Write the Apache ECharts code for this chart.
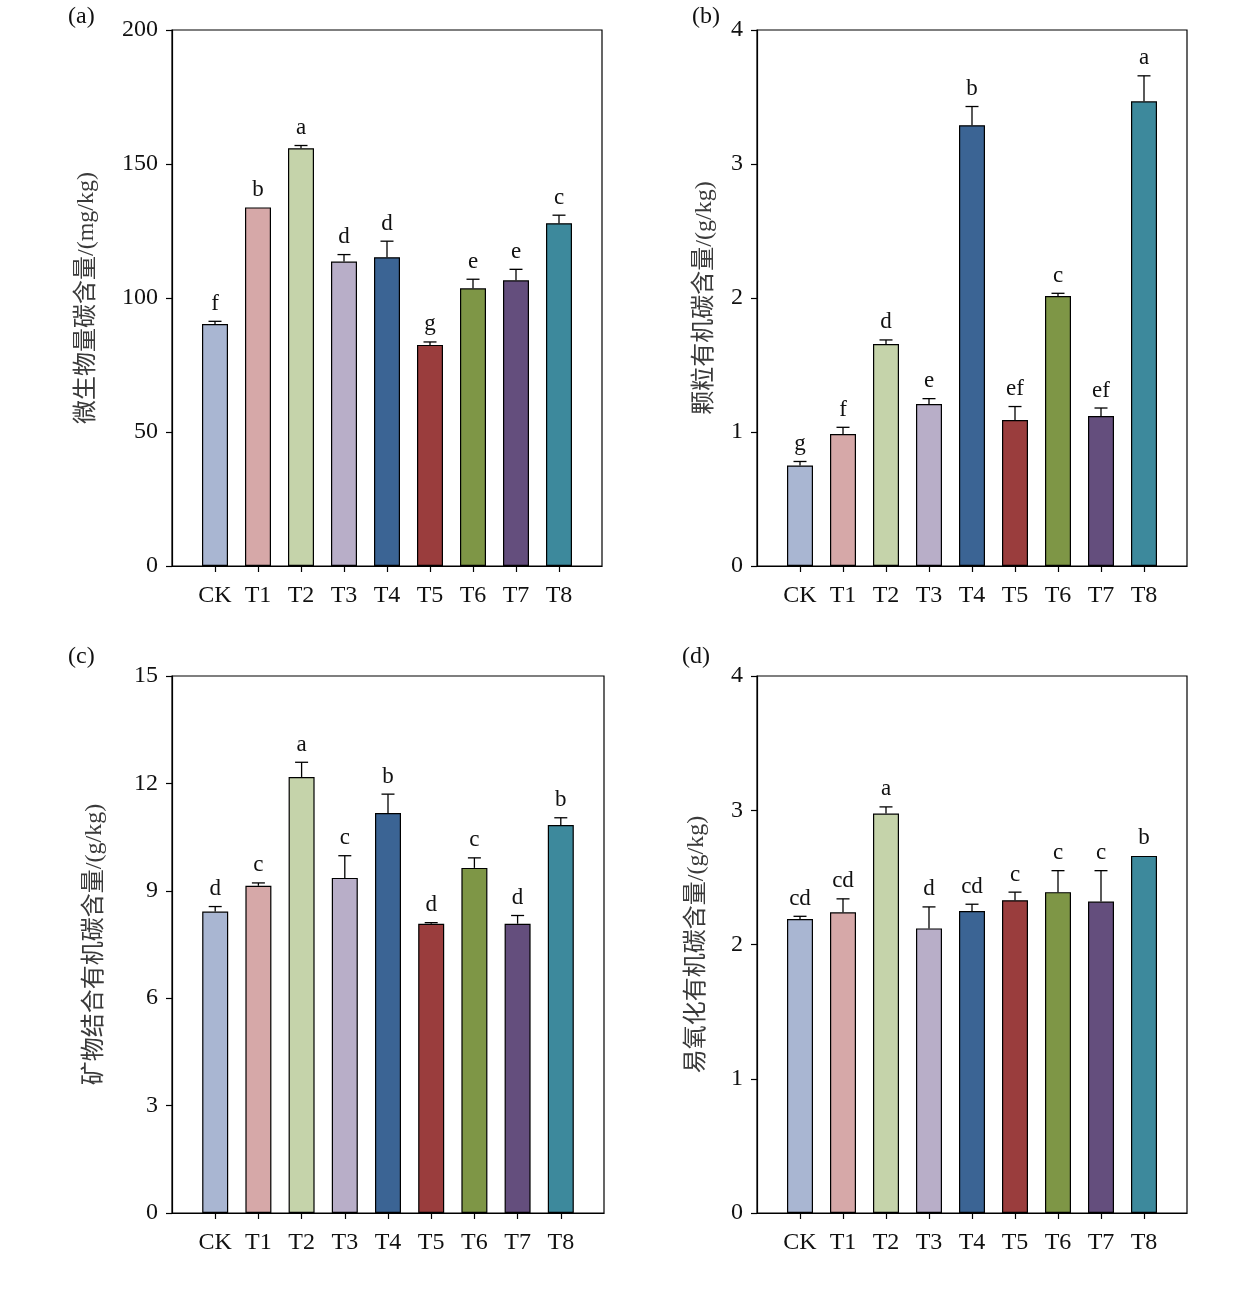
<!DOCTYPE html>
<html lang="zh">
  <head>
    <meta charset="UTF-8" />
    <title>土壤碳组分</title>
    <script src="https://cdn.jsdelivr.net/npm/echarts@6.0.0/dist/echarts.min.js"></script>
    <style>
      html, body { margin: 0; padding: 0; background: #fff; }
      #app { width: 1260px; height: 1297px; }
    </style>
  </head>
  <body>
    <div id="app"></div>
    <script>
      const categories = ["CK", "T1", "T2", "T3", "T4", "T5", "T6", "T7", "T8"];
      const barColors = ["#a9b6d2", "#d6a8a8", "#c5d3aa", "#b8aec8", "#3b6494", "#9a3d3d", "#7e9646", "#644e7d", "#3d899c"];

      // (a) 微生物量碳
      const mbcMean = [90.3, 133.8, 155.9, 113.6, 115.2, 82.5, 103.6, 106.6, 127.9];
      const mbcErr = [1.0, 0, 1.0, 2.6, 6.0, 1.1, 3.4, 4.1, 3.0];
      const mbcSig = ["f", "b", "a", "d", "d", "g", "e", "e", "c"];

      // (b) 颗粒有机碳
      const pocMean = [0.75, 0.985, 1.657, 1.209, 3.289, 1.09, 2.015, 1.119, 3.468];
      const pocErr = [0.03, 0.05, 0.03, 0.04, 0.14, 0.10, 0.02, 0.06, 0.19];
      const pocSig = ["g", "f", "d", "e", "b", "ef", "c", "ef", "a"];

      // (c) 矿物结合有机碳
      const maocMean = [8.42, 9.14, 12.18, 9.36, 11.17, 8.08, 9.64, 8.08, 10.84];
      const maocErr = [0.14, 0.08, 0.41, 0.62, 0.53, 0.03, 0.28, 0.23, 0.20];
      const maocSig = ["d", "c", "a", "c", "b", "d", "c", "d", "b"];

      // (d) 易氧化有机碳
      const rocMean = [2.19, 2.24, 2.975, 2.12, 2.25, 2.33, 2.39, 2.32, 2.66];
      const rocErr = [0.02, 0.10, 0.05, 0.16, 0.05, 0.06, 0.16, 0.23, 0];
      const rocSig = ["cd", "cd", "a", "d", "cd", "c", "c", "c", "b"];

      const panels = [
        { tag: "(a)", name: "微生物量碳含量/(mg/kg)", mean: mbcMean, err: mbcErr, sig: mbcSig, max: 200, step: 50, nameGap: 73,
          grid: { left: 172, top: 30, width: 430, height: 536 }, tagPos: [68, 18] },
        { tag: "(b)", name: "颗粒有机碳含量/(g/kg)", mean: pocMean, err: pocErr, sig: pocSig, max: 4, step: 1, nameGap: 40,
          grid: { left: 757, top: 30, width: 430, height: 536 }, tagPos: [692, 18] },
        { tag: "(c)", name: "矿物结合有机碳含量/(g/kg)", mean: maocMean, err: maocErr, sig: maocSig, max: 15, step: 3, nameGap: 65,
          grid: { left: 172, top: 676, width: 432, height: 537 }, tagPos: [68, 658] },
        { tag: "(d)", name: "易氧化有机碳含量/(g/kg)", mean: rocMean, err: rocErr, sig: rocSig, max: 4, step: 1, nameGap: 48,
          grid: { left: 757, top: 676, width: 430, height: 537 }, tagPos: [682, 658] },
      ];

      const serif = "'Liberation Serif', 'Times New Roman', serif";
      const cjk = "'Liberation Serif', 'Noto Sans CJK SC', serif";
      const positions = categories.map((c, i) => i + 1);

      const option = {
        animation: false,
        backgroundColor: "#fff",
        graphic: panels.map((p) => ({
          type: "text",
          left: p.tagPos[0],
          top: p.tagPos[1] - 13,
          style: { text: p.tag, fontSize: 24, fontFamily: serif, fill: "#111" },
        })),
        grid: panels.map((p) => Object.assign({ show: true, borderColor: "#000", borderWidth: 1.2, backgroundColor: "transparent" }, p.grid)),
        xAxis: panels.map((p, k) => ({
          type: "value",
          gridIndex: k,
          min: 0,
          max: 10,
          interval: 1,
          splitLine: { show: false },
          axisLine: { show: true, lineStyle: { color: "#000", width: 1.2 } },
          axisTick: { show: true, length: 6, customValues: positions, lineStyle: { color: "#000", width: 1.2 } },
          axisLabel: {
            customValues: positions,
            margin: 18,
            fontSize: 24,
            fontFamily: serif,
            color: "#111",
            formatter: (v) => categories[Math.round(v) - 1] || "",
          },
        })),
        yAxis: panels.map((p, k) => ({
          type: "value",
          gridIndex: k,
          min: 0,
          max: p.max,
          interval: p.step,
          name: p.name,
          nameLocation: "middle",
          nameGap: p.nameGap,
          nameTextStyle: { fontSize: 24, fontFamily: cjk, color: "#3a3a3a" },
          splitLine: { show: false },
          axisLine: { show: true, lineStyle: { color: "#000", width: 1.2 } },
          axisTick: { show: true, length: 6, lineStyle: { color: "#000", width: 1.2 } },
          axisLabel: { margin: 14, fontSize: 24, fontFamily: serif, color: "#111" },
        })),
        series: [],
      };

      panels.forEach((p, k) => {
        option.series.push({
          type: "bar",
          xAxisIndex: k,
          yAxisIndex: k,
          barWidth: 26,
          data: p.mean.map((v, i) => ({
            value: [positions[i], v],
            itemStyle: { color: barColors[i], borderColor: "#000", borderWidth: 1.2 },
          })),
        });
        option.series.push({
          type: "custom",
          xAxisIndex: k,
          yAxisIndex: k,
          z: 5,
          clip: false,
          data: p.mean.map((v, i) => [positions[i], v, p.err[i], i]),
          encode: { x: 0, y: 1 },
          renderItem: (params, api) => {
            const x = api.value(0);
            const m = api.value(1);
            const e = api.value(2);
            const idx = api.value(3);
            const base = api.coord([x, m]);
            const top = api.coord([x, m + e]);
            const children = [];
            if (e > 0) {
              const lineStyle = { stroke: "#000", lineWidth: 1.3 };
              children.push({ type: "line", shape: { x1: base[0], y1: base[1], x2: top[0], y2: top[1] }, style: lineStyle });
              children.push({ type: "line", shape: { x1: top[0] - 6.5, y1: top[1], x2: top[0] + 6.5, y2: top[1] }, style: lineStyle });
            }
            children.push({
              type: "text",
              style: {
                text: p.sig[idx],
                x: top[0],
                y: top[1] - 6,
                align: "center",
                verticalAlign: "bottom",
                fontSize: 23,
                fontFamily: serif,
                fill: "#111",
              },
            });
            return { type: "group", children };
          },
        });
      });

      const chart = echarts.init(document.getElementById("app"));
      chart.setOption(option);
    </script>
  </body>
</html>
